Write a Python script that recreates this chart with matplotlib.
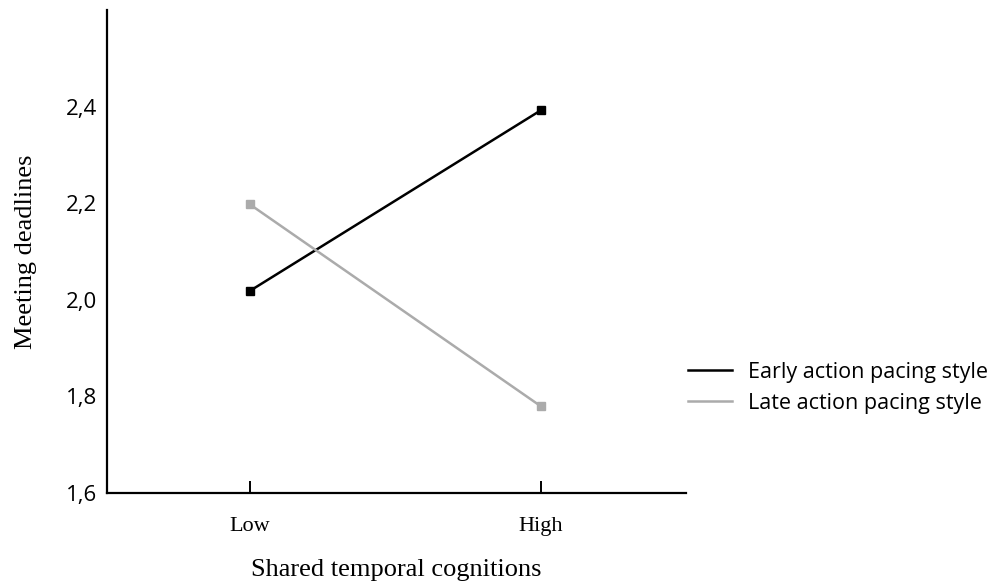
import matplotlib

matplotlib.use("Agg")
import matplotlib.pyplot as plt

levels = ["Low", "High"]
early = [2.018, 2.392]
late = [2.198, 1.780]
y_ticks = [1.6, 1.8, 2.0, 2.2, 2.4]
y_labels = ["1,6", "1,8", "2,0", "2,2", "2,4"]

fig = plt.figure(figsize=(9.98, 5.83), dpi=100)
ax = fig.add_axes([0.1072, 0.1544, 0.5802, 0.8284])

x = list(range(len(levels)))
ax.plot(x, early, color="black", lw=1.8, marker="s", ms=5.5, label="Early action pacing style")
ax.plot(x, late, color="#ababab", lw=1.8, marker="s", ms=5.5, label="Late action pacing style")

ax.set_xlim(-0.49, 1.5)
ax.set_ylim(1.6, 2.6)
ax.spines["top"].set_visible(False)
ax.spines["right"].set_visible(False)
for s in ("left", "bottom"):
    ax.spines[s].set_linewidth(1.6)

ax.set_xticks(x)
ax.set_xticklabels(levels, family="Liberation Serif", fontsize=16)
ax.tick_params(axis="x", direction="in", length=9, width=1.4, pad=17)
ax.set_yticks(y_ticks)
ax.set_yticklabels(y_labels, family="Open Sans", fontsize=16)
ax.tick_params(axis="y", length=0, pad=7)

ax.set_xlabel("Shared temporal cognitions", family="Liberation Serif", fontsize=19, labelpad=17)
ax.set_ylabel("Meeting deadlines", family="Liberation Serif", fontsize=19, labelpad=21)

leg = fig.legend(
    loc="center left",
    bbox_to_anchor=(0.670, 0.335),
    frameon=False,
    prop={"family": "Open Sans", "size": 15.5},
    handlelength=2.05,
    handletextpad=0.75,
    labelspacing=0.45,
)
for h in leg.legend_handles:
    h.set_marker("")

fig.savefig("out.png", dpi=100)
